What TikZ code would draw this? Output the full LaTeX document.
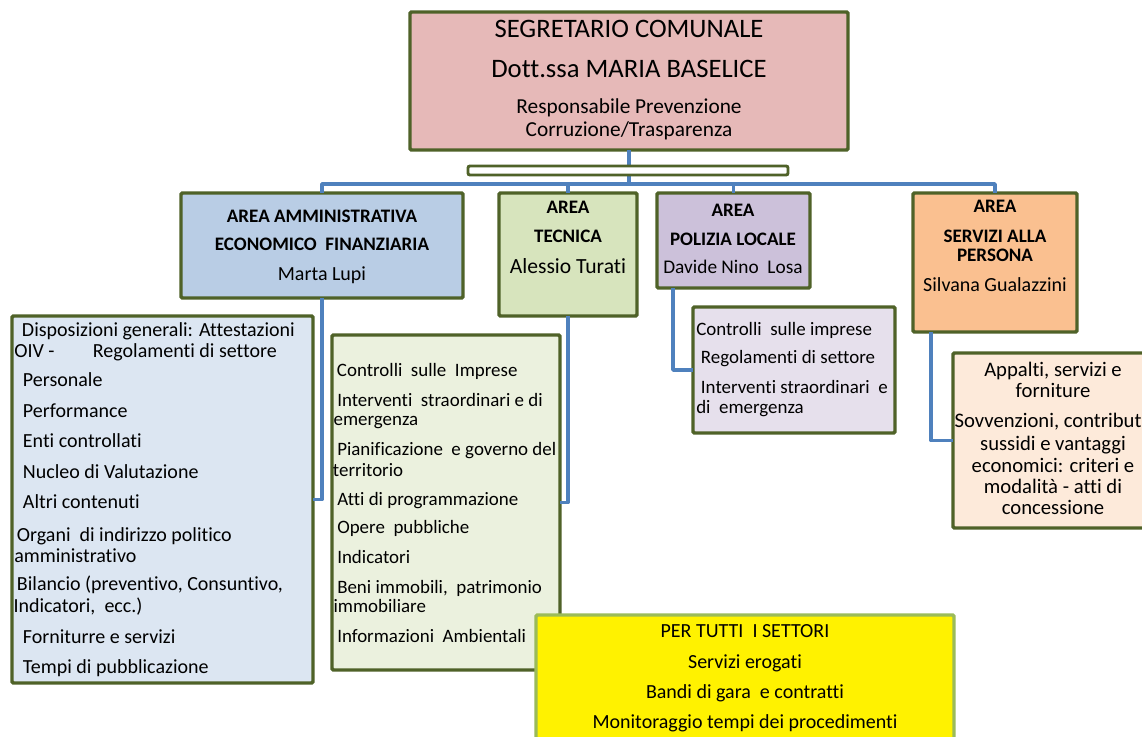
\documentclass[tikz,border=0pt]{standalone}
\usepackage{fontspec}
\setmainfont{Carlito}[Ligatures={NoCommon,NoContextual,NoRequired},Contextuals=NoAlternate]
\definecolor{olv}{HTML}{4F6228}
\definecolor{ylwb}{HTML}{9BBB59}
\definecolor{cblue}{HTML}{4F81BD}
\definecolor{ftop}{HTML}{E6B9B8}
\definecolor{fadm}{HTML}{B9CDE5}
\definecolor{ftec}{HTML}{D7E4BD}
\definecolor{fpol}{HTML}{CCC1DA}
\definecolor{fser}{HTML}{FAC090}
\definecolor{ladm}{HTML}{DCE6F2}
\definecolor{ltec}{HTML}{EBF1DE}
\definecolor{lpol}{HTML}{E6E0EC}
\definecolor{lser}{HTML}{FDEADA}
\newcommand{\fz}[1]{\fontsize{#1}{#1}\selectfont}
\newcommand{\bx}[6]{\node[#2, minimum width={(#5-#3)*0.75pt}, minimum height={(#6-#4)*0.75pt}] (#1) at ({(#3+#5)/2},{(#4+#6)/2}) {};}
\newcommand{\tl}[5]{\node[#2] (#1) at (#3,#4) {#5};}
\begin{document}
\begin{tikzpicture}[x=0.75pt,y=-0.75pt,
  box/.style={draw=olv, line width=2.6pt, rectangle, rounded corners=1pt, inner sep=0pt, outer sep=0pt},
  conn/.style={draw=cblue, line width=2.6pt, line join=round},
  lt/.style={anchor=base west, inner sep=0pt, font=\fz{15pt}},
  lt14/.style={anchor=base west, inner sep=0pt, font=\fz{14.2pt}},
  ct/.style={anchor=base, inner sep=0pt},
  hd/.style={anchor=base, inner sep=0pt, font=\bfseries\fz{14.3pt}}]
\clip (0,0) rectangle (1142,736);
\fill[white] (0,0) rectangle (1142,736);
% main boxes
\bx{top}{box, fill=ftop}{410}{12}{848}{150}
\bx{adm}{box, fill=fadm}{181}{193}{463}{298}
\bx{tec}{box, fill=ftec}{499}{193}{637}{316}
\bx{pol}{box, fill=fpol}{657}{193}{810}{288}
\bx{ser}{box, fill=fser}{913}{193}{1077}{332}
% list boxes
\bx{admL}{box, fill=ladm}{12}{316}{313}{683}
\bx{tecL}{box, fill=ltec}{332}{335}{560}{670}
\bx{polL}{box, fill=lpol}{693}{307}{895}{433}
\bx{serL}{box, fill=lser}{953}{353}{1170}{528}
% connectors
\coordinate (hub) at (629,184);
\draw[conn] (top.south) -- (top.south |- hub);
\draw[conn] (adm.north) -- (adm.north |- hub) -- (ser.north |- hub) -- (ser.north);
\draw[conn] (tec.north) -- (tec.north |- hub);
\draw[conn] (pol.north) -- (pol.north |- hub);
\draw[conn] (adm.south) |- (admL.east);
\draw[conn] (tec.south) |- (tecL.east);
\draw[conn] ([xshift=12pt]pol.south west) |- (polL.west);
\draw[conn] ([xshift=13.5pt]ser.south west) |- (serL.west);
% double bar
\bx{bar}{box, fill=white, line width=2.2pt, rounded corners=1.5pt}{468}{166}{788}{175}
% yellow box
\bx{yel}{draw=ylwb, line width=2.6pt, fill=yellow, rounded corners=1pt, inner sep=0pt}{536}{615}{954}{760}
% top text
\tl{t1}{ct, font=\fz{20pt}}{629}{37}{SEGRETARIO COMUNALE}
\tl{t2}{ct, font=\fz{20pt}}{629}{77}{Dott.ssa MARIA BASELICE}
\tl{t3}{ct, font=\fz{16pt}}{629}{113}{Responsabile Prevenzione}
\tl{t4}{ct, font=\fz{16pt}}{629}{136}{Corruzione/Trasparenza}
% area headers
\tl{a1}{hd}{322}{222}{AREA AMMINISTRATIVA}
\tl{a2}{hd}{322}{250}{ECONOMICO\ \ FINANZIARIA}
\tl{a3}{ct, font=\fz{15pt}}{322}{280}{Marta Lupi}
\tl{b1}{hd}{568}{213}{AREA}
\tl{b2}{hd}{568}{242}{TECNICA}
\tl{b3}{ct, font=\fz{16.2pt}}{568}{273}{Alessio Turati}
\tl{c1}{hd}{733}{216}{AREA}
\tl{c2}{hd}{733}{245}{POLIZIA LOCALE}
\tl{c3}{ct, font=\fz{14.5pt}}{733}{273}{Davide Nino\ \ Losa}
\tl{d1}{hd}{995}{212}{AREA}
\tl{d2}{hd}{995}{242}{SERVIZI ALLA}
\tl{d3}{hd}{995}{261}{PERSONA}
\tl{d4}{ct, font=\fz{15pt}}{995}{291}{Silvana Gualazzini}
% admin list
\tl{e1}{lt}{21.7}{336}{Disposizioni generali: Attestazioni}
\tl{e2}{lt}{14}{357}{\makebox[59pt][l]{OIV -}Regolamenti di settore}
\tl{e3}{lt}{22.7}{386}{Personale}
\tl{e4}{lt}{22.7}{417}{Performance}
\tl{e5}{lt}{22.7}{447}{Enti controllati}
\tl{e6}{lt}{22.7}{478}{Nucleo di Valutazione}
\tl{e7}{lt}{22.7}{508}{Altri contenuti}
\tl{e8}{lt}{16.7}{541}{Organi\ \ di indirizzo politico}
\tl{e9}{lt}{14}{562}{amministrativo}
\tl{e10}{lt}{16.7}{590}{Bilancio (preventivo, Consuntivo,}
\tl{e11}{lt}{13.3}{612}{Indicatori,\ \ ecc.)}
\tl{e12}{lt}{22.7}{643}{Forniturre e servizi}
\tl{e13}{lt}{22.7}{673}{Tempi di pubblicazione}
% tecnica list
\tl{f1}{lt14}{336.7}{376}{Controlli\ \ sulle\ \ Imprese}
\tl{f2}{lt14}{337}{406}{Interventi\ \ straordinari e di}
\tl{f3}{lt14}{333.3}{425}{emergenza}
\tl{f4}{lt14}{337}{455}{Pianificazione\ \ e governo del}
\tl{f5}{lt14}{332.7}{476}{territorio}
\tl{f6}{lt14}{337}{505}{Atti di programmazione}
\tl{f7}{lt14}{337}{533}{Opere\ \ pubbliche}
\tl{f8}{lt14}{337}{563}{Indicatori}
\tl{f9}{lt14}{337}{593}{Beni immobili,\ \ patrimonio}
\tl{f10}{lt14}{333.3}{612}{immobiliare}
\tl{f11}{lt14}{337}{642}{Informazioni\ \ Ambientali}
% polizia list
\tl{g1}{lt14}{696}{335}{Controlli\ \ sulle imprese}
\tl{g2}{lt14}{700.7}{363}{Regolamenti di settore}
\tl{g3}{lt14}{700.7}{393}{Interventi straordinari\ \ e}
\tl{g4}{lt14}{696}{413}{di\ \ emergenza}
% servizi list
\tl{h1}{ct, font=\fz{15.5pt}}{1053}{376}{Appalti, servizi e}
\tl{h2}{ct, font=\fz{15.5pt}}{1053}{397}{forniture}
\tl{h3}{ct, font=\fz{15.5pt}}{1053}{427}{Sovvenzioni, contributi,}
\tl{h4}{ct, font=\fz{15.5pt}}{1053}{450}{sussidi e vantaggi}
\tl{h5}{ct, font=\fz{15.5pt}}{1053}{472}{economici: criteri e}
\tl{h6}{ct, font=\fz{15.5pt}}{1053}{493}{modalità - atti di}
\tl{h7}{ct, font=\fz{15.5pt}}{1053}{514}{concessione}
% yellow text
\tl{y1}{ct, font=\fz{15pt}}{745}{637}{PER TUTTI\ \ I SETTORI}
\tl{y2}{ct, font=\fz{15pt}}{745}{668}{Servizi erogati}
\tl{y3}{ct, font=\fz{15pt}}{745}{698}{Bandi di gara\ \ e contratti}
\tl{y4}{ct, font=\fz{15pt}}{745}{728}{Monitoraggio tempi dei procedimenti}
\end{tikzpicture}
\end{document}
